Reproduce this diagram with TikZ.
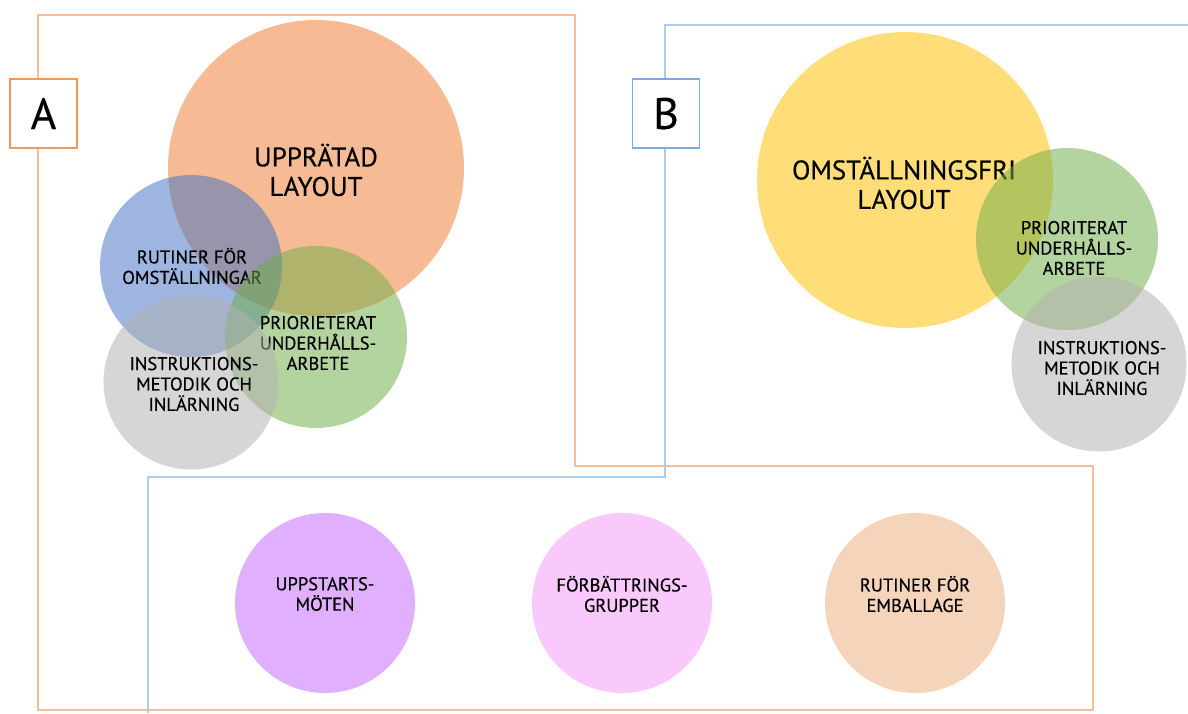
\documentclass[tikz,border=0pt]{standalone}
\usepackage{fontspec}
\setmainfont{PT Sans}
\newfontfamily\lblfont[FakeBold=0.35]{PT Sans}
\newfontfamily\headfont[FakeBold=0.35]{PT Sans}
\begin{document}
\begin{tikzpicture}[x=1pt,y=-1pt,
  frameA/.style={draw=orFrame,line width=1.4pt},
  frameB/.style={draw=blFrame,line width=1.4pt},
  tagbox/.style={draw,line width=1.5pt,fill=white,minimum width=67pt,minimum height=69pt,inner sep=0pt,font=\headfont\fontsize{44}{48}\selectfont},
  bigc/.style={circle,minimum size=296pt,inner sep=0pt},
  smallc/.style={circle,minimum size=182pt,inner sep=0pt},
  tinyc/.style={circle,minimum size=175pt,inner sep=0pt},
  venn/.style={fill=#1,fill opacity=0.52,draw=none},
  solid/.style={fill=#1,draw=none},
  bigtxt/.style={align=center,inner sep=0pt,font=\headfont\fontsize{27}{29.5}\selectfont},
  smalltxt/.style={align=center,inner sep=0pt,font=\lblfont\fontsize{18.5}{20.4}\selectfont},
]
\definecolor{orFrame}{HTML}{F6BE96}
\definecolor{blFrame}{HTML}{AECBE8}
\definecolor{orBox}{HTML}{F0995C}
\definecolor{blBox}{HTML}{7EAADB}
\definecolor{vOrange}{HTML}{ED7D31}
\definecolor{vBlue}{HTML}{4472C4}
\definecolor{vGreen}{HTML}{70AD47}
\definecolor{vGrey}{HTML}{B0B0B0}
\definecolor{vYellow}{HTML}{FFC000}
\definecolor{cPurple}{HTML}{E0B0FF}
\definecolor{cPink}{HTML}{F9C9FB}
\definecolor{cPeach}{HTML}{F5D4BC}

\useasboundingbox (0,0) rectangle (1188,713);

% group frames
\draw[frameA] (38,15) -- (575,15) -- (575,466) -- (1093,466) -- (1093,710) -- (38,710) -- cycle;
\draw[frameB] (1188,25) -- (665,25) -- (665,477) -- (148,477) -- (148,713);

% group tags
\node[tagbox,draw=orBox] (tagA) at (43.5,113.5) {A};
\node[tagbox,draw=blBox] (tagB) at (666,113.5) {B};

% group A: overlapping circles
\node[bigc,venn=vOrange] (upp) at (316,168) {};
\node[bigtxt] (uppT) at (316,170) {UPPRÄTAD\\LAYOUT};
\node[smallc,venn=vBlue] (rut) at (191,266) {};
\node[smalltxt] (rutT) at (192,266) {RUTINER FÖR\\OMSTÄLLNINGAR};
\node[smallc,venn=vGreen] (pri) at (316,337) {};
\node[smalltxt] (priT) at (318,343) {PRIORIETERAT\\UNDERHÅLLS-\\ARBETE};
\node[tinyc,venn=vGrey] (ins) at (191,382) {};
\node[smalltxt] (insT) at (194,384) {INSTRUKTIONS-\\METODIK OCH\\INLÄRNING};

% group B: overlapping circles
\node[bigc,venn=vYellow] (oms) at (905,180) {};
\node[bigtxt] (omsT) at (904,183) {OMSTÄLLNINGSFRI\\LAYOUT};
\node[smallc,venn=vGreen] (pri2) at (1067,239) {};
\node[smalltxt] (pri2T) at (1074,248) {PRIORITERAT\\UNDERHÅLLS-\\ARBETE};
\node[tinyc,venn=vGrey] (ins2) at (1099,364) {};
\node[smalltxt] (ins2T) at (1102,368) {INSTRUKTIONS-\\METODIK OCH\\INLÄRNING};

% shared activities
\node[smallc,solid=cPurple,minimum size=180pt] (ups) at (325,603) {};
\node[smalltxt] (upsT) at (325,594) {UPPSTARTS-\\MÖTEN};
\node[smallc,solid=cPink,minimum size=180pt] (forb) at (622,603) {};
\node[smalltxt] (forbT) at (622,594) {FÖRBÄTTRINGS-\\GRUPPER};
\node[smallc,solid=cPeach,minimum size=180pt] (emb) at (915,603) {};
\node[smalltxt] (embT) at (915,594) {RUTINER FÖR\\EMBALLAGE};
\end{tikzpicture}
\end{document}
